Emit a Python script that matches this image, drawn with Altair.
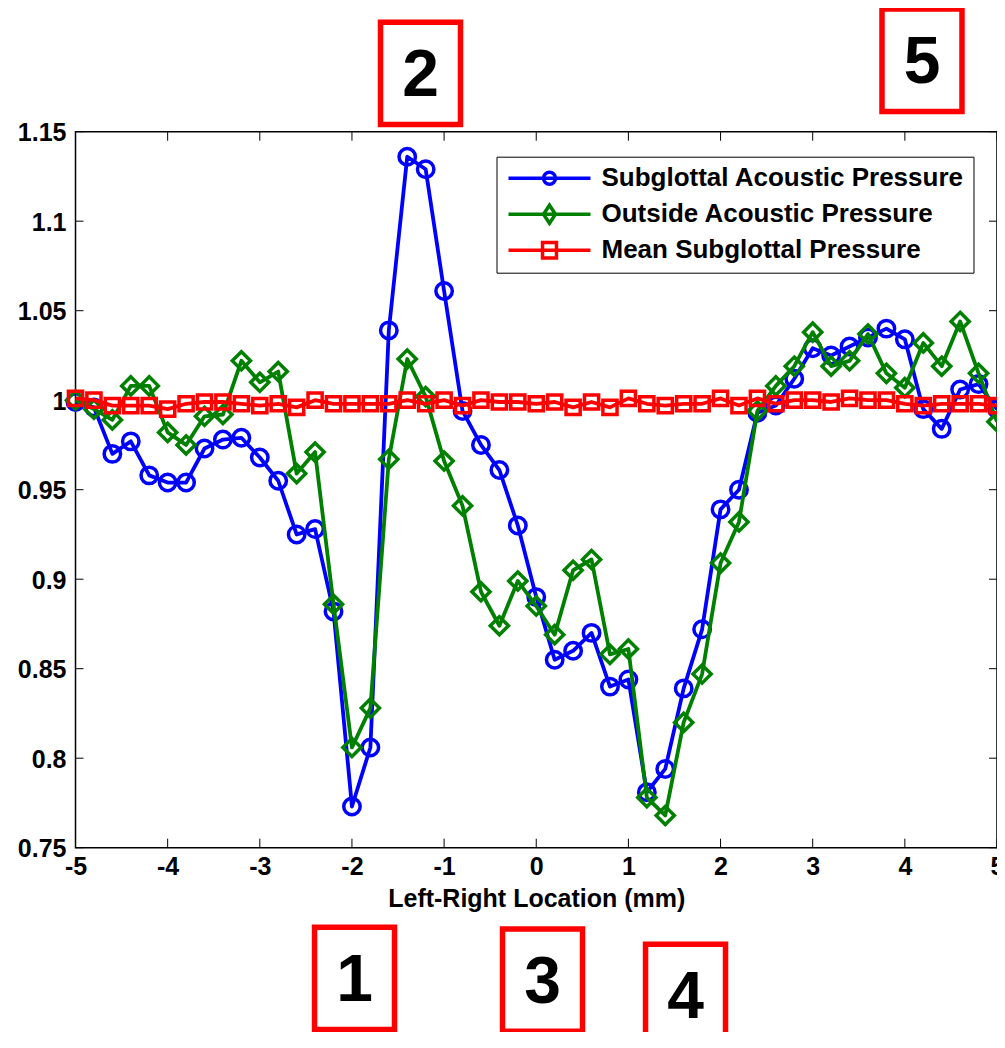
import altair as alt
import pandas as pd

# ---------------- data ----------------
x_mm = [-5.0, -4.8, -4.6, -4.4, -4.2, -4.0, -3.8, -3.6, -3.4, -3.2,
        -3.0, -2.8, -2.6, -2.4, -2.2, -2.0, -1.8, -1.6, -1.4, -1.2,
        -1.0, -0.8, -0.6, -0.4, -0.2, 0.0, 0.2, 0.4, 0.6, 0.8,
        1.0, 1.2, 1.4, 1.6, 1.8, 2.0, 2.2, 2.4, 2.6, 2.8,
        3.0, 3.2, 3.4, 3.6, 3.8, 4.0, 4.2, 4.4, 4.6, 4.8, 5.0]

subglottal_acoustic = [0.999, 0.996, 0.970, 0.977, 0.958, 0.954, 0.954, 0.973, 0.978, 0.979,
                       0.968, 0.955, 0.925, 0.928, 0.882, 0.773, 0.806, 1.039, 1.136, 1.129,
                       1.061, 0.994, 0.975, 0.961, 0.930, 0.890, 0.855, 0.860, 0.870, 0.840,
                       0.844, 0.781, 0.794, 0.839, 0.872, 0.939, 0.950, 0.993, 0.997, 1.012,
                       1.029, 1.025, 1.030, 1.035, 1.040, 1.034, 0.995, 0.984, 1.006, 1.009, 0.995]

outside_acoustic = [1.000, 0.995, 0.989, 1.008, 1.008, 0.982, 0.975, 0.991, 0.992, 1.022,
                    1.010, 1.016, 0.959, 0.971, 0.886, 0.806, 0.828, 0.967, 1.023, 1.002,
                    0.966, 0.941, 0.893, 0.874, 0.899, 0.885, 0.869, 0.905, 0.911, 0.858,
                    0.861, 0.778, 0.768, 0.820, 0.847, 0.909, 0.932, 0.994, 1.008, 1.019,
                    1.038, 1.019, 1.022, 1.037, 1.015, 1.007, 1.032, 1.019, 1.044, 1.015, 0.988]

mean_subglottal = [1.001, 1.000, 0.997, 0.997, 0.997, 0.995, 0.998, 0.999, 0.999, 0.998,
                   0.997, 0.998, 0.996, 1.000, 0.998, 0.998, 0.998, 0.998, 1.000, 0.998,
                   1.000, 0.997, 1.000, 0.999, 0.999, 0.998, 0.999, 0.996, 0.999, 0.996,
                   1.001, 0.998, 0.997, 0.998, 0.998, 1.001, 0.997, 1.001, 0.998, 1.000,
                   1.000, 0.999, 1.001, 1.000, 1.000, 0.998, 0.997, 0.998, 0.998, 0.998, 0.997]

series_names = ["Subglottal Acoustic Pressure", "Outside Acoustic Pressure", "Mean Subglottal Pressure"]
series_colors = ["#0000ff", "#008000", "#ff0000"]
series_values = [subglottal_acoustic, outside_acoustic, mean_subglottal]

x_ticks = [-5, -4, -3, -2, -1, 0, 1, 2, 3, 4, 5]
y_ticks = [0.75, 0.8, 0.85, 0.9, 0.95, 1.0, 1.05, 1.1, 1.15]

# numbered annotation boxes (centre positions in data units)
ann_labels = ["1", "2", "3", "4", "5"]
ann_x = [-1.972, -1.256, 0.068, 1.620, 4.186]
ann_y = [0.677, 1.1826, 0.676, 0.6675, 1.1899]

# ---------------- tables ----------------
rows = []
for name, vals in zip(series_names, series_values):
    for xv, yv in zip(x_mm, vals):
        rows.append({"series": name, "x": xv, "y": yv})
df = pd.DataFrame(rows)

xt_df = pd.DataFrame({"x": x_ticks})
yt_df = pd.DataFrame({"y": y_ticks})
ann_df = pd.DataFrame({"label": ann_labels, "x": ann_x, "y": ann_y})

# ---------------- layout ----------------
W, H = 921.5, 716
FONT = "Liberation Sans"

xscale = alt.Scale(domain=[-5, 5], nice=False, zero=False)
yscale = alt.Scale(domain=[0.75, 1.15], nice=False, zero=False)

xaxis = alt.Axis(values=x_ticks, labelExpr="'' + datum.value", ticks=False, tickSize=0,
                 domain=False, grid=False, labelFont=FONT, labelFontSize=25,
                 labelFontWeight="bold", labelColor="black", labelPadding=7,
                 labelFlush=False, labelOverlap=False,
                 title="Left-Right Location (mm)", titleFont=FONT, titleFontSize=25,
                 titleFontWeight="bold", titleColor="black", titlePadding=7)
yaxis = alt.Axis(values=y_ticks, labelExpr="'' + datum.value", ticks=False, tickSize=0,
                 domain=False, grid=False, labelFont=FONT, labelFontSize=25,
                 labelFontWeight="bold", labelColor="black", labelPadding=9.5,
                 labelFlush=False, labelOverlap=False, labelOffset=1, title=None)

X = alt.X("x:Q", scale=xscale, axis=xaxis)
Y = alt.Y("y:Q", scale=yscale, axis=yaxis)

base = alt.Chart(df)

layers = []

# inward tick marks on all four sides (box style)
layers.append(alt.Chart(xt_df).mark_rule(color="black", strokeWidth=1).encode(
    x=X, y=alt.value(H), y2=alt.value(H - 9)))
layers.append(alt.Chart(xt_df).mark_rule(color="black", strokeWidth=1).encode(
    x=X, y=alt.value(0), y2=alt.value(9)))
layers.append(alt.Chart(yt_df).mark_rule(color="black", strokeWidth=1).encode(
    y=Y, x=alt.value(0), x2=alt.value(8)))
layers.append(alt.Chart(yt_df).mark_rule(color="black", strokeWidth=1).encode(
    y=Y, x=alt.value(W), x2=alt.value(W - 8)))

marker_shapes = ["circle", "M0,-1L1,0L0,1L-1,0Z", "square"]
marker_sizes = [270, 330, 200]
for name, color, shp, sz in zip(series_names, series_colors, marker_shapes, marker_sizes):
    sub = base.transform_filter(alt.datum.series == name)
    layers.append(sub.mark_line(color=color, strokeWidth=3.8, strokeJoin="round").encode(x=X, y=Y))
    layers.append(sub.mark_point(shape=shp, filled=False, size=sz, strokeWidth=3.5,
                                 color=color, opacity=1).encode(x=X, y=Y))

# legend (MATLAB style: line + marker)
legend_paths = [
    "M-1,0H1M-0.146,0A0.146,0.146,0,1,1,0.146,0A0.146,0.146,0,1,1,-0.146,0Z",
    "M-1,0H1M0,-0.22L0.146,0L0,0.22L-0.146,0Z",
    "M-1,0H1M-0.17,-0.19H0.17V0.19H-0.17Z",
]
leg = alt.Legend(title=None, orient="none", legendX=421, legendY=25, padding=9,
                 strokeColor="black", fillColor="white", cornerRadius=0,
                 labelFont=FONT, labelFontSize=26, labelFontWeight="bold", labelColor="black",
                 labelLimit=800, labelOffset=9, symbolSize=6724, symbolStrokeWidth=3.5,
                 symbolOpacity=1, symbolFillColor="transparent", clipHeight=25, rowPadding=9,
                 symbolOffset=1)
layers.append(base.transform_filter("datum.x > 100").mark_point(filled=False, strokeWidth=3.5, opacity=1).encode(
    x=X, y=Y,
    color=alt.Color("series:N", scale=alt.Scale(domain=series_names, range=series_colors), legend=leg),
    shape=alt.Shape("series:N", scale=alt.Scale(domain=series_names, range=legend_paths), legend=leg),
))

# numbered red boxes
ann = alt.Chart(ann_df).transform_calculate(
    bx1="datum.x - 0.434", bx2="datum.x + 0.434",
    by1="datum.y - 0.0286", by2="datum.y + 0.0286")
layers.append(ann.mark_rect(fill="transparent", stroke="#ff0000", strokeWidth=5.5).encode(
    x=alt.X("bx1:Q", scale=xscale, axis=xaxis), x2="bx2:Q",
    y=alt.Y("by1:Q", scale=yscale, axis=yaxis), y2="by2:Q"))
layers.append(alt.Chart(ann_df).mark_text(font=FONT, fontSize=66, fontWeight="bold", color="black",
                                          align="center", baseline="middle", dy=3).encode(
    x=X, y=Y, text="label:N"))

chart = alt.layer(*layers).properties(
    width=W, height=H,
    autosize=alt.AutoSizeParams(type="none"),
    padding={"left": 67.5, "top": 123.7, "right": 0, "bottom": 184},
    background="white",
).configure_view(stroke="black", strokeWidth=1.5)

chart.save("out.html", embed_options={"renderer": "svg", "actions": False})
